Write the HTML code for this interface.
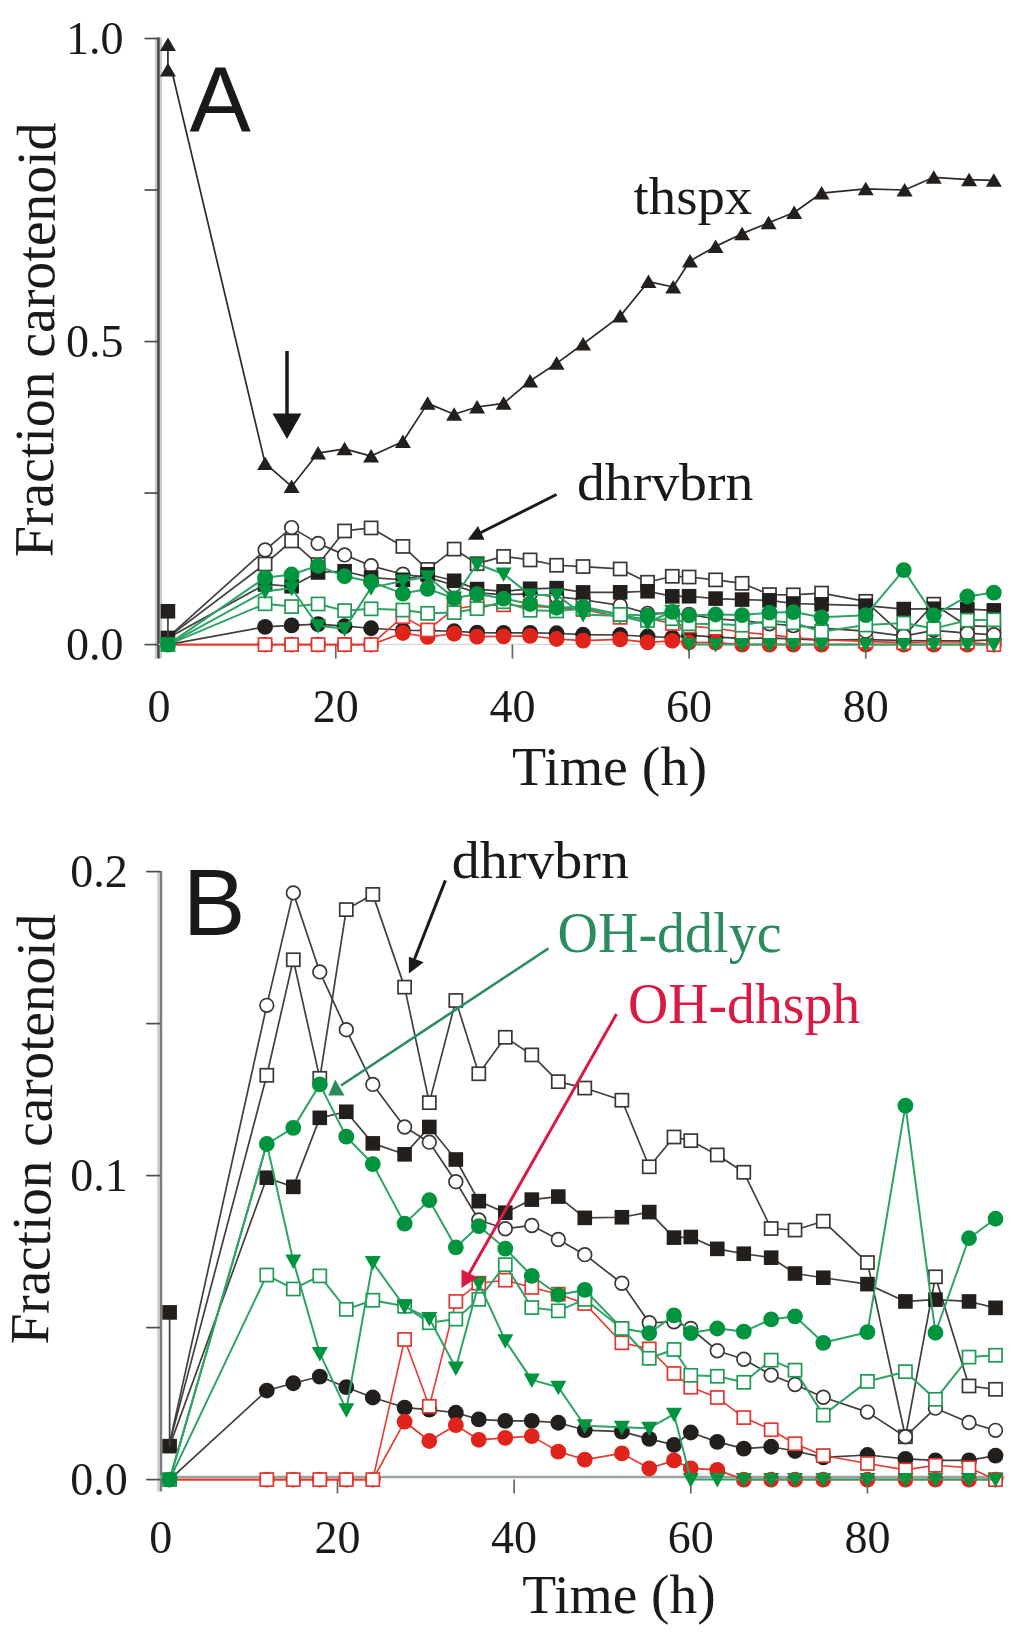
<!DOCTYPE html>
<html><head><meta charset="utf-8"><title>Fraction carotenoid</title>
<style>html,body{margin:0;padding:0;background:#fff;}body{width:1024px;height:1636px;overflow:hidden;font-family:"Liberation Serif",serif;}svg{display:block;filter:blur(0.4px)} .s{font-family:"Liberation Serif",serif} .a{font-family:"Liberation Sans",sans-serif}</style>
</head><body>
<svg width="1024" height="1636" viewBox="0 0 1024 1636">
<rect width="1024" height="1636" fill="#fff"/>
<rect x="154.8" y="37.5" width="7.3" height="621" fill="#cbcbcb"/>
<rect x="157.2" y="37.5" width="2.5" height="621" fill="#4a4644"/>
<path d="M144.5 644.6L158.5 644.6" stroke="#504c4a" stroke-width="1.7"/>
<path d="M144.5 493.08L158.5 493.08" stroke="#504c4a" stroke-width="1.7"/>
<path d="M144.5 341.55L158.5 341.55" stroke="#504c4a" stroke-width="1.7"/>
<path d="M144.5 190.02L158.5 190.02" stroke="#504c4a" stroke-width="1.7"/>
<path d="M144.5 38.5L158.5 38.5" stroke="#504c4a" stroke-width="1.7"/>
<path d="M158.5 644.4L1002.65 644.4" stroke="#d4d8d8" stroke-width="1.2"/>
<path d="M335.76 644.6L335.76 658.6" stroke="#6a6664" stroke-width="1.7"/>
<path d="M512.42 644.6L512.42 658.6" stroke="#6a6664" stroke-width="1.7"/>
<path d="M689.08 644.6L689.08 658.6" stroke="#6a6664" stroke-width="1.7"/>
<path d="M865.74 644.6L865.74 658.6" stroke="#6a6664" stroke-width="1.7"/>
<path d="M167.93 644.6L265.1 626.84L291.6 625.39L318.09 624.05L344.59 626.17L371.09 628.24L402.89 630.24L427.62 630.66L454.12 631.27L477.09 632.6L503.59 632.9L530.09 632.9L556.59 633.27L583.08 634.72L620.18 635.02L647.56 636.48L672.3 637.69L689.08 635.21L715.58 637.08L742.08 638.42L769.46 638.05L793.31 638.9L821.58 640.18L865.74 639.69L903.72 640.48L933.75 640.78L967.32 640.78L993.82 639.81" fill="none" stroke="#423e3c" stroke-width="1.7" stroke-linejoin="round"/>
<circle cx="265.1" cy="626.84" r="7.9" fill="#231f1c"/>
<circle cx="291.6" cy="625.39" r="7.9" fill="#231f1c"/>
<circle cx="318.09" cy="624.05" r="7.9" fill="#231f1c"/>
<circle cx="344.59" cy="626.17" r="7.9" fill="#231f1c"/>
<circle cx="371.09" cy="628.24" r="7.9" fill="#231f1c"/>
<circle cx="402.89" cy="630.24" r="7.9" fill="#231f1c"/>
<circle cx="427.62" cy="630.66" r="7.9" fill="#231f1c"/>
<circle cx="454.12" cy="631.27" r="7.9" fill="#231f1c"/>
<circle cx="477.09" cy="632.6" r="7.9" fill="#231f1c"/>
<circle cx="503.59" cy="632.9" r="7.9" fill="#231f1c"/>
<circle cx="530.09" cy="632.9" r="7.9" fill="#231f1c"/>
<circle cx="556.59" cy="633.27" r="7.9" fill="#231f1c"/>
<circle cx="583.08" cy="634.72" r="7.9" fill="#231f1c"/>
<circle cx="620.18" cy="635.02" r="7.9" fill="#231f1c"/>
<circle cx="647.56" cy="636.48" r="7.9" fill="#231f1c"/>
<circle cx="672.3" cy="637.69" r="7.9" fill="#231f1c"/>
<circle cx="689.08" cy="635.21" r="7.9" fill="#231f1c"/>
<circle cx="715.58" cy="637.08" r="7.9" fill="#231f1c"/>
<circle cx="742.08" cy="638.42" r="7.9" fill="#231f1c"/>
<circle cx="769.46" cy="638.05" r="7.9" fill="#231f1c"/>
<circle cx="793.31" cy="638.9" r="7.9" fill="#231f1c"/>
<circle cx="821.58" cy="640.18" r="7.9" fill="#231f1c"/>
<circle cx="865.74" cy="639.69" r="7.9" fill="#231f1c"/>
<circle cx="903.72" cy="640.48" r="7.9" fill="#231f1c"/>
<circle cx="933.75" cy="640.78" r="7.9" fill="#231f1c"/>
<circle cx="967.32" cy="640.78" r="7.9" fill="#231f1c"/>
<circle cx="993.82" cy="639.81" r="7.9" fill="#231f1c"/>
<path d="M167.93 644.6L265.1 644.6L291.6 644.6L318.09 644.6L344.59 644.6L371.09 644.6L402.89 633.02L427.62 636.9L454.12 633.75L477.09 636.66L503.59 636.3L530.09 635.93L556.59 639.02L583.08 640.6L620.18 639.39L647.56 642.36L672.3 640.78L689.08 642.36L715.58 642.66L742.08 644.6L769.46 644.6L793.31 644.6L821.58 644.6L865.74 644.6L903.72 644.6L933.75 644.6L967.32 644.6L993.82 644.6" fill="none" stroke="#e43a30" stroke-width="1.7" stroke-linejoin="round"/>
<circle cx="265.1" cy="644.6" r="7.9" fill="#e0241c"/>
<circle cx="291.6" cy="644.6" r="7.9" fill="#e0241c"/>
<circle cx="318.09" cy="644.6" r="7.9" fill="#e0241c"/>
<circle cx="344.59" cy="644.6" r="7.9" fill="#e0241c"/>
<circle cx="371.09" cy="644.6" r="7.9" fill="#e0241c"/>
<circle cx="402.89" cy="633.02" r="7.9" fill="#e0241c"/>
<circle cx="427.62" cy="636.9" r="7.9" fill="#e0241c"/>
<circle cx="454.12" cy="633.75" r="7.9" fill="#e0241c"/>
<circle cx="477.09" cy="636.66" r="7.9" fill="#e0241c"/>
<circle cx="503.59" cy="636.3" r="7.9" fill="#e0241c"/>
<circle cx="530.09" cy="635.93" r="7.9" fill="#e0241c"/>
<circle cx="556.59" cy="639.02" r="7.9" fill="#e0241c"/>
<circle cx="583.08" cy="640.6" r="7.9" fill="#e0241c"/>
<circle cx="620.18" cy="639.39" r="7.9" fill="#e0241c"/>
<circle cx="647.56" cy="642.36" r="7.9" fill="#e0241c"/>
<circle cx="672.3" cy="640.78" r="7.9" fill="#e0241c"/>
<circle cx="689.08" cy="642.36" r="7.9" fill="#e0241c"/>
<circle cx="715.58" cy="642.66" r="7.9" fill="#e0241c"/>
<circle cx="742.08" cy="644.6" r="7.9" fill="#e0241c"/>
<circle cx="769.46" cy="644.6" r="7.9" fill="#e0241c"/>
<circle cx="793.31" cy="644.6" r="7.9" fill="#e0241c"/>
<circle cx="821.58" cy="644.6" r="7.9" fill="#e0241c"/>
<circle cx="865.74" cy="644.6" r="7.9" fill="#e0241c"/>
<circle cx="903.72" cy="644.6" r="7.9" fill="#e0241c"/>
<circle cx="933.75" cy="644.6" r="7.9" fill="#e0241c"/>
<circle cx="967.32" cy="644.6" r="7.9" fill="#e0241c"/>
<circle cx="993.82" cy="644.6" r="7.9" fill="#e0241c"/>
<path d="M167.93 644.6L265.1 644.6L291.6 644.6L318.09 644.6L344.59 644.6L371.09 644.6L402.89 616.66L427.62 629.99L454.12 609.08L477.09 605.45L503.59 604.84L530.09 606.29L556.59 607.63L583.08 609.51L620.18 617.33L647.56 618.54L672.3 623.45L689.08 626.17L715.58 628.24L742.08 632.24L769.46 634.66L793.31 637.45L821.58 639.81L865.74 641.39L903.72 642.66L933.75 641.75L967.32 642.24L993.82 644.6" fill="none" stroke="#e43a30" stroke-width="1.6" stroke-linejoin="round"/>
<rect x="258.55" y="638.05" width="13.1" height="13.1" fill="#fff" stroke="#e2362e" stroke-width="1.7"/>
<rect x="285.05" y="638.05" width="13.1" height="13.1" fill="#fff" stroke="#e2362e" stroke-width="1.7"/>
<rect x="311.54" y="638.05" width="13.1" height="13.1" fill="#fff" stroke="#e2362e" stroke-width="1.7"/>
<rect x="338.04" y="638.05" width="13.1" height="13.1" fill="#fff" stroke="#e2362e" stroke-width="1.7"/>
<rect x="364.54" y="638.05" width="13.1" height="13.1" fill="#fff" stroke="#e2362e" stroke-width="1.7"/>
<rect x="396.34" y="610.11" width="13.1" height="13.1" fill="#fff" stroke="#e2362e" stroke-width="1.7"/>
<rect x="421.07" y="623.44" width="13.1" height="13.1" fill="#fff" stroke="#e2362e" stroke-width="1.7"/>
<rect x="447.57" y="602.53" width="13.1" height="13.1" fill="#fff" stroke="#e2362e" stroke-width="1.7"/>
<rect x="470.54" y="598.9" width="13.1" height="13.1" fill="#fff" stroke="#e2362e" stroke-width="1.7"/>
<rect x="497.04" y="598.29" width="13.1" height="13.1" fill="#fff" stroke="#e2362e" stroke-width="1.7"/>
<rect x="523.54" y="599.74" width="13.1" height="13.1" fill="#fff" stroke="#e2362e" stroke-width="1.7"/>
<rect x="550.04" y="601.08" width="13.1" height="13.1" fill="#fff" stroke="#e2362e" stroke-width="1.7"/>
<rect x="576.53" y="602.96" width="13.1" height="13.1" fill="#fff" stroke="#e2362e" stroke-width="1.7"/>
<rect x="613.63" y="610.78" width="13.1" height="13.1" fill="#fff" stroke="#e2362e" stroke-width="1.7"/>
<rect x="641.01" y="611.99" width="13.1" height="13.1" fill="#fff" stroke="#e2362e" stroke-width="1.7"/>
<rect x="665.75" y="616.9" width="13.1" height="13.1" fill="#fff" stroke="#e2362e" stroke-width="1.7"/>
<rect x="682.53" y="619.62" width="13.1" height="13.1" fill="#fff" stroke="#e2362e" stroke-width="1.7"/>
<rect x="709.03" y="621.69" width="13.1" height="13.1" fill="#fff" stroke="#e2362e" stroke-width="1.7"/>
<rect x="735.53" y="625.69" width="13.1" height="13.1" fill="#fff" stroke="#e2362e" stroke-width="1.7"/>
<rect x="762.91" y="628.11" width="13.1" height="13.1" fill="#fff" stroke="#e2362e" stroke-width="1.7"/>
<rect x="786.76" y="630.9" width="13.1" height="13.1" fill="#fff" stroke="#e2362e" stroke-width="1.7"/>
<rect x="815.03" y="633.26" width="13.1" height="13.1" fill="#fff" stroke="#e2362e" stroke-width="1.7"/>
<rect x="859.19" y="634.84" width="13.1" height="13.1" fill="#fff" stroke="#e2362e" stroke-width="1.7"/>
<rect x="897.17" y="636.11" width="13.1" height="13.1" fill="#fff" stroke="#e2362e" stroke-width="1.7"/>
<rect x="927.2" y="635.2" width="13.1" height="13.1" fill="#fff" stroke="#e2362e" stroke-width="1.7"/>
<rect x="960.77" y="635.69" width="13.1" height="13.1" fill="#fff" stroke="#e2362e" stroke-width="1.7"/>
<rect x="987.27" y="638.05" width="13.1" height="13.1" fill="#fff" stroke="#e2362e" stroke-width="1.7"/>
<path d="M167.93 637.33L265.1 563.99L291.6 540.96L318.09 564.59L344.59 530.96L371.09 527.93L402.89 546.41L427.62 569.44L454.12 549.08L477.09 563.69L503.59 556.41L530.09 559.93L556.59 565.26L583.08 566.53L620.18 568.96L647.56 582.23L672.3 576.29L689.08 577.02L715.58 579.87L742.08 583.32L769.46 594.54L793.31 594.84L821.58 593.08L865.74 601.32L903.72 636.05L933.75 604.17L967.32 625.93L993.82 626.6" fill="none" stroke="#423e3c" stroke-width="1.7" stroke-linejoin="round"/>
<rect x="258.55" y="557.44" width="13.1" height="13.1" fill="#fff" stroke="#3a3633" stroke-width="1.7"/>
<rect x="285.05" y="534.41" width="13.1" height="13.1" fill="#fff" stroke="#3a3633" stroke-width="1.7"/>
<rect x="311.54" y="558.04" width="13.1" height="13.1" fill="#fff" stroke="#3a3633" stroke-width="1.7"/>
<rect x="338.04" y="524.41" width="13.1" height="13.1" fill="#fff" stroke="#3a3633" stroke-width="1.7"/>
<rect x="364.54" y="521.38" width="13.1" height="13.1" fill="#fff" stroke="#3a3633" stroke-width="1.7"/>
<rect x="396.34" y="539.86" width="13.1" height="13.1" fill="#fff" stroke="#3a3633" stroke-width="1.7"/>
<rect x="421.07" y="562.89" width="13.1" height="13.1" fill="#fff" stroke="#3a3633" stroke-width="1.7"/>
<rect x="447.57" y="542.53" width="13.1" height="13.1" fill="#fff" stroke="#3a3633" stroke-width="1.7"/>
<rect x="470.54" y="557.14" width="13.1" height="13.1" fill="#fff" stroke="#3a3633" stroke-width="1.7"/>
<rect x="497.04" y="549.86" width="13.1" height="13.1" fill="#fff" stroke="#3a3633" stroke-width="1.7"/>
<rect x="523.54" y="553.38" width="13.1" height="13.1" fill="#fff" stroke="#3a3633" stroke-width="1.7"/>
<rect x="550.04" y="558.71" width="13.1" height="13.1" fill="#fff" stroke="#3a3633" stroke-width="1.7"/>
<rect x="576.53" y="559.98" width="13.1" height="13.1" fill="#fff" stroke="#3a3633" stroke-width="1.7"/>
<rect x="613.63" y="562.41" width="13.1" height="13.1" fill="#fff" stroke="#3a3633" stroke-width="1.7"/>
<rect x="641.01" y="575.68" width="13.1" height="13.1" fill="#fff" stroke="#3a3633" stroke-width="1.7"/>
<rect x="665.75" y="569.74" width="13.1" height="13.1" fill="#fff" stroke="#3a3633" stroke-width="1.7"/>
<rect x="682.53" y="570.47" width="13.1" height="13.1" fill="#fff" stroke="#3a3633" stroke-width="1.7"/>
<rect x="709.03" y="573.32" width="13.1" height="13.1" fill="#fff" stroke="#3a3633" stroke-width="1.7"/>
<rect x="735.53" y="576.77" width="13.1" height="13.1" fill="#fff" stroke="#3a3633" stroke-width="1.7"/>
<rect x="762.91" y="587.99" width="13.1" height="13.1" fill="#fff" stroke="#3a3633" stroke-width="1.7"/>
<rect x="786.76" y="588.29" width="13.1" height="13.1" fill="#fff" stroke="#3a3633" stroke-width="1.7"/>
<rect x="815.03" y="586.53" width="13.1" height="13.1" fill="#fff" stroke="#3a3633" stroke-width="1.7"/>
<rect x="859.19" y="594.77" width="13.1" height="13.1" fill="#fff" stroke="#3a3633" stroke-width="1.7"/>
<rect x="897.17" y="629.5" width="13.1" height="13.1" fill="#fff" stroke="#3a3633" stroke-width="1.7"/>
<rect x="927.2" y="597.62" width="13.1" height="13.1" fill="#fff" stroke="#3a3633" stroke-width="1.7"/>
<rect x="960.77" y="619.38" width="13.1" height="13.1" fill="#fff" stroke="#3a3633" stroke-width="1.7"/>
<rect x="987.27" y="620.05" width="13.1" height="13.1" fill="#fff" stroke="#3a3633" stroke-width="1.7"/>
<path d="M167.93 637.33L265.1 550.05L291.6 527.62L318.09 543.38L344.59 554.9L371.09 565.81L402.89 574.29L427.62 577.32L454.12 585.2L477.09 592.84L503.59 594.6L530.09 593.93L556.59 596.72L583.08 599.75L620.18 605.45L647.56 613.33L672.3 613.14L689.08 614.48L715.58 618.9L742.08 620.6L769.46 623.75L793.31 625.63L821.58 628.17L865.74 631.14L903.72 636.05L933.75 630.36L967.32 633.21L993.82 634.78" fill="none" stroke="#423e3c" stroke-width="1.7" stroke-linejoin="round"/>
<circle cx="265.1" cy="550.05" r="6.85" fill="#fff" stroke="#3a3633" stroke-width="1.7"/>
<circle cx="291.6" cy="527.62" r="6.85" fill="#fff" stroke="#3a3633" stroke-width="1.7"/>
<circle cx="318.09" cy="543.38" r="6.85" fill="#fff" stroke="#3a3633" stroke-width="1.7"/>
<circle cx="344.59" cy="554.9" r="6.85" fill="#fff" stroke="#3a3633" stroke-width="1.7"/>
<circle cx="371.09" cy="565.81" r="6.85" fill="#fff" stroke="#3a3633" stroke-width="1.7"/>
<circle cx="402.89" cy="574.29" r="6.85" fill="#fff" stroke="#3a3633" stroke-width="1.7"/>
<circle cx="427.62" cy="577.32" r="6.85" fill="#fff" stroke="#3a3633" stroke-width="1.7"/>
<circle cx="454.12" cy="585.2" r="6.85" fill="#fff" stroke="#3a3633" stroke-width="1.7"/>
<circle cx="477.09" cy="592.84" r="6.85" fill="#fff" stroke="#3a3633" stroke-width="1.7"/>
<circle cx="503.59" cy="594.6" r="6.85" fill="#fff" stroke="#3a3633" stroke-width="1.7"/>
<circle cx="530.09" cy="593.93" r="6.85" fill="#fff" stroke="#3a3633" stroke-width="1.7"/>
<circle cx="556.59" cy="596.72" r="6.85" fill="#fff" stroke="#3a3633" stroke-width="1.7"/>
<circle cx="583.08" cy="599.75" r="6.85" fill="#fff" stroke="#3a3633" stroke-width="1.7"/>
<circle cx="620.18" cy="605.45" r="6.85" fill="#fff" stroke="#3a3633" stroke-width="1.7"/>
<circle cx="647.56" cy="613.33" r="6.85" fill="#fff" stroke="#3a3633" stroke-width="1.7"/>
<circle cx="672.3" cy="613.14" r="6.85" fill="#fff" stroke="#3a3633" stroke-width="1.7"/>
<circle cx="689.08" cy="614.48" r="6.85" fill="#fff" stroke="#3a3633" stroke-width="1.7"/>
<circle cx="715.58" cy="618.9" r="6.85" fill="#fff" stroke="#3a3633" stroke-width="1.7"/>
<circle cx="742.08" cy="620.6" r="6.85" fill="#fff" stroke="#3a3633" stroke-width="1.7"/>
<circle cx="769.46" cy="623.75" r="6.85" fill="#fff" stroke="#3a3633" stroke-width="1.7"/>
<circle cx="793.31" cy="625.63" r="6.85" fill="#fff" stroke="#3a3633" stroke-width="1.7"/>
<circle cx="821.58" cy="628.17" r="6.85" fill="#fff" stroke="#3a3633" stroke-width="1.7"/>
<circle cx="865.74" cy="631.14" r="6.85" fill="#fff" stroke="#3a3633" stroke-width="1.7"/>
<circle cx="903.72" cy="636.05" r="6.85" fill="#fff" stroke="#3a3633" stroke-width="1.7"/>
<circle cx="933.75" cy="630.36" r="6.85" fill="#fff" stroke="#3a3633" stroke-width="1.7"/>
<circle cx="967.32" cy="633.21" r="6.85" fill="#fff" stroke="#3a3633" stroke-width="1.7"/>
<circle cx="993.82" cy="634.78" r="6.85" fill="#fff" stroke="#3a3633" stroke-width="1.7"/>
<path d="M167.93 637.93L265.1 584.41L291.6 586.23L318.09 572.47L344.59 571.26L371.09 577.57L402.89 579.75L427.62 574.29L454.12 580.78L477.09 589.08L503.59 591.38L530.09 588.78L556.59 588.17L583.08 592.41L620.18 592.29L647.56 591.26L672.3 596.35L689.08 596.23L715.58 598.6L742.08 599.57L769.46 600.35L793.31 603.51L821.58 604.35L865.74 605.63L903.72 609.08L933.75 608.72L967.32 609.08L993.82 610.36" fill="none" stroke="#423e3c" stroke-width="1.7" stroke-linejoin="round"/>
<rect x="160.63" y="630.63" width="14.6" height="14.6" fill="#231f1c"/>
<rect x="257.8" y="577.11" width="14.6" height="14.6" fill="#231f1c"/>
<rect x="284.3" y="578.93" width="14.6" height="14.6" fill="#231f1c"/>
<rect x="310.79" y="565.17" width="14.6" height="14.6" fill="#231f1c"/>
<rect x="337.29" y="563.96" width="14.6" height="14.6" fill="#231f1c"/>
<rect x="363.79" y="570.27" width="14.6" height="14.6" fill="#231f1c"/>
<rect x="395.59" y="572.45" width="14.6" height="14.6" fill="#231f1c"/>
<rect x="420.32" y="566.99" width="14.6" height="14.6" fill="#231f1c"/>
<rect x="446.82" y="573.48" width="14.6" height="14.6" fill="#231f1c"/>
<rect x="469.79" y="581.78" width="14.6" height="14.6" fill="#231f1c"/>
<rect x="496.29" y="584.08" width="14.6" height="14.6" fill="#231f1c"/>
<rect x="522.79" y="581.48" width="14.6" height="14.6" fill="#231f1c"/>
<rect x="549.29" y="580.87" width="14.6" height="14.6" fill="#231f1c"/>
<rect x="575.78" y="585.11" width="14.6" height="14.6" fill="#231f1c"/>
<rect x="612.88" y="584.99" width="14.6" height="14.6" fill="#231f1c"/>
<rect x="640.26" y="583.96" width="14.6" height="14.6" fill="#231f1c"/>
<rect x="665" y="589.05" width="14.6" height="14.6" fill="#231f1c"/>
<rect x="681.78" y="588.93" width="14.6" height="14.6" fill="#231f1c"/>
<rect x="708.28" y="591.3" width="14.6" height="14.6" fill="#231f1c"/>
<rect x="734.78" y="592.27" width="14.6" height="14.6" fill="#231f1c"/>
<rect x="762.16" y="593.05" width="14.6" height="14.6" fill="#231f1c"/>
<rect x="786.01" y="596.21" width="14.6" height="14.6" fill="#231f1c"/>
<rect x="814.28" y="597.05" width="14.6" height="14.6" fill="#231f1c"/>
<rect x="858.44" y="598.33" width="14.6" height="14.6" fill="#231f1c"/>
<rect x="896.42" y="601.78" width="14.6" height="14.6" fill="#231f1c"/>
<rect x="926.45" y="601.42" width="14.6" height="14.6" fill="#231f1c"/>
<rect x="960.02" y="601.78" width="14.6" height="14.6" fill="#231f1c"/>
<rect x="986.52" y="603.06" width="14.6" height="14.6" fill="#231f1c"/>
<path d="M167.93 644.6L265.1 603.81L291.6 606.6L318.09 603.99L344.59 610.66L371.09 608.84L402.89 610.05L427.62 613.33L454.12 612.6L477.09 608.66L503.59 601.75L530.09 610.29L556.59 610.96L583.08 608.66L620.18 614.48L647.56 620.42L672.3 618.66L689.08 623.81L715.58 623.99L742.08 625.2L769.46 620.78L793.31 622.78L821.58 631.75L865.74 625.02L903.72 623.08L933.75 628.6L967.32 620.17L993.82 619.81" fill="none" stroke="#2ea366" stroke-width="2.0" stroke-linejoin="round"/>
<rect x="161.38" y="638.05" width="13.1" height="13.1" fill="#fff" stroke="#1e9a55" stroke-width="1.7"/>
<rect x="258.55" y="597.26" width="13.1" height="13.1" fill="#fff" stroke="#1e9a55" stroke-width="1.7"/>
<rect x="285.05" y="600.05" width="13.1" height="13.1" fill="#fff" stroke="#1e9a55" stroke-width="1.7"/>
<rect x="311.54" y="597.44" width="13.1" height="13.1" fill="#fff" stroke="#1e9a55" stroke-width="1.7"/>
<rect x="338.04" y="604.11" width="13.1" height="13.1" fill="#fff" stroke="#1e9a55" stroke-width="1.7"/>
<rect x="364.54" y="602.29" width="13.1" height="13.1" fill="#fff" stroke="#1e9a55" stroke-width="1.7"/>
<rect x="396.34" y="603.5" width="13.1" height="13.1" fill="#fff" stroke="#1e9a55" stroke-width="1.7"/>
<rect x="421.07" y="606.78" width="13.1" height="13.1" fill="#fff" stroke="#1e9a55" stroke-width="1.7"/>
<rect x="447.57" y="606.05" width="13.1" height="13.1" fill="#fff" stroke="#1e9a55" stroke-width="1.7"/>
<rect x="470.54" y="602.11" width="13.1" height="13.1" fill="#fff" stroke="#1e9a55" stroke-width="1.7"/>
<rect x="497.04" y="595.2" width="13.1" height="13.1" fill="#fff" stroke="#1e9a55" stroke-width="1.7"/>
<rect x="523.54" y="603.74" width="13.1" height="13.1" fill="#fff" stroke="#1e9a55" stroke-width="1.7"/>
<rect x="550.04" y="604.41" width="13.1" height="13.1" fill="#fff" stroke="#1e9a55" stroke-width="1.7"/>
<rect x="576.53" y="602.11" width="13.1" height="13.1" fill="#fff" stroke="#1e9a55" stroke-width="1.7"/>
<rect x="613.63" y="607.93" width="13.1" height="13.1" fill="#fff" stroke="#1e9a55" stroke-width="1.7"/>
<rect x="641.01" y="613.87" width="13.1" height="13.1" fill="#fff" stroke="#1e9a55" stroke-width="1.7"/>
<rect x="665.75" y="612.11" width="13.1" height="13.1" fill="#fff" stroke="#1e9a55" stroke-width="1.7"/>
<rect x="682.53" y="617.26" width="13.1" height="13.1" fill="#fff" stroke="#1e9a55" stroke-width="1.7"/>
<rect x="709.03" y="617.44" width="13.1" height="13.1" fill="#fff" stroke="#1e9a55" stroke-width="1.7"/>
<rect x="735.53" y="618.65" width="13.1" height="13.1" fill="#fff" stroke="#1e9a55" stroke-width="1.7"/>
<rect x="762.91" y="614.23" width="13.1" height="13.1" fill="#fff" stroke="#1e9a55" stroke-width="1.7"/>
<rect x="786.76" y="616.23" width="13.1" height="13.1" fill="#fff" stroke="#1e9a55" stroke-width="1.7"/>
<rect x="815.03" y="625.2" width="13.1" height="13.1" fill="#fff" stroke="#1e9a55" stroke-width="1.7"/>
<rect x="859.19" y="618.47" width="13.1" height="13.1" fill="#fff" stroke="#1e9a55" stroke-width="1.7"/>
<rect x="897.17" y="616.53" width="13.1" height="13.1" fill="#fff" stroke="#1e9a55" stroke-width="1.7"/>
<rect x="927.2" y="622.05" width="13.1" height="13.1" fill="#fff" stroke="#1e9a55" stroke-width="1.7"/>
<rect x="960.77" y="613.62" width="13.1" height="13.1" fill="#fff" stroke="#1e9a55" stroke-width="1.7"/>
<rect x="987.27" y="613.26" width="13.1" height="13.1" fill="#fff" stroke="#1e9a55" stroke-width="1.7"/>
<path d="M167.93 644.6L265.1 591.26L291.6 588.23L318.09 625.81L344.59 628.84L371.09 587.63L402.89 580.96L427.62 576.72L454.12 597.93L477.09 563.99L503.59 573.99L530.09 594.9L556.59 594.9L583.08 614.6L620.18 616.11L647.56 622.78L672.3 611.26L689.08 644.6L715.58 644.6L742.08 644.6L769.46 644.6L793.31 644.6L821.58 644.6L865.74 644.6L903.72 644.6L933.75 644.6L967.32 644.6L993.82 644.6" fill="none" stroke="#2ea366" stroke-width="2.0" stroke-linejoin="round"/>
<path d="M159.93 638.1L175.93 638.1L167.93 652.6Z" fill="#00943f"/>
<path d="M257.1 584.76L273.1 584.76L265.1 599.26Z" fill="#00943f"/>
<path d="M283.6 581.73L299.6 581.73L291.6 596.23Z" fill="#00943f"/>
<path d="M310.09 619.31L326.09 619.31L318.09 633.81Z" fill="#00943f"/>
<path d="M336.59 622.34L352.59 622.34L344.59 636.84Z" fill="#00943f"/>
<path d="M363.09 581.13L379.09 581.13L371.09 595.63Z" fill="#00943f"/>
<path d="M394.89 574.46L410.89 574.46L402.89 588.96Z" fill="#00943f"/>
<path d="M419.62 570.22L435.62 570.22L427.62 584.72Z" fill="#00943f"/>
<path d="M446.12 591.43L462.12 591.43L454.12 605.93Z" fill="#00943f"/>
<path d="M469.09 557.49L485.09 557.49L477.09 571.99Z" fill="#00943f"/>
<path d="M495.59 567.49L511.59 567.49L503.59 581.99Z" fill="#00943f"/>
<path d="M522.09 588.4L538.09 588.4L530.09 602.9Z" fill="#00943f"/>
<path d="M548.59 588.4L564.59 588.4L556.59 602.9Z" fill="#00943f"/>
<path d="M575.08 608.1L591.08 608.1L583.08 622.6Z" fill="#00943f"/>
<path d="M612.18 609.61L628.18 609.61L620.18 624.11Z" fill="#00943f"/>
<path d="M639.56 616.28L655.56 616.28L647.56 630.78Z" fill="#00943f"/>
<path d="M664.3 604.76L680.3 604.76L672.3 619.26Z" fill="#00943f"/>
<path d="M681.08 638.1L697.08 638.1L689.08 652.6Z" fill="#00943f"/>
<path d="M707.58 638.1L723.58 638.1L715.58 652.6Z" fill="#00943f"/>
<path d="M734.08 638.1L750.08 638.1L742.08 652.6Z" fill="#00943f"/>
<path d="M761.46 638.1L777.46 638.1L769.46 652.6Z" fill="#00943f"/>
<path d="M785.31 638.1L801.31 638.1L793.31 652.6Z" fill="#00943f"/>
<path d="M813.58 638.1L829.58 638.1L821.58 652.6Z" fill="#00943f"/>
<path d="M857.74 638.1L873.74 638.1L865.74 652.6Z" fill="#00943f"/>
<path d="M895.72 638.1L911.72 638.1L903.72 652.6Z" fill="#00943f"/>
<path d="M925.75 638.1L941.75 638.1L933.75 652.6Z" fill="#00943f"/>
<path d="M959.32 638.1L975.32 638.1L967.32 652.6Z" fill="#00943f"/>
<path d="M985.82 638.1L1001.82 638.1L993.82 652.6Z" fill="#00943f"/>
<path d="M167.93 644.6L265.1 577.69L291.6 574.47L318.09 565.81L344.59 576.23L371.09 581.69L402.89 593.57L427.62 588.9L454.12 598.29L477.09 594.05L503.59 598.54L530.09 603.99L556.59 607.75L583.08 606.78L620.18 614.48L647.56 615.39L672.3 611.87L689.08 615.39L715.58 614.48L742.08 615.08L769.46 612.66L793.31 612.05L821.58 617.33L865.74 615.2L903.72 570.05L933.75 615.33L967.32 596.48L993.82 592.6" fill="none" stroke="#2ea366" stroke-width="2.0" stroke-linejoin="round"/>
<circle cx="167.93" cy="644.6" r="7.9" fill="#00943f"/>
<circle cx="265.1" cy="577.69" r="7.9" fill="#00943f"/>
<circle cx="291.6" cy="574.47" r="7.9" fill="#00943f"/>
<circle cx="318.09" cy="565.81" r="7.9" fill="#00943f"/>
<circle cx="344.59" cy="576.23" r="7.9" fill="#00943f"/>
<circle cx="371.09" cy="581.69" r="7.9" fill="#00943f"/>
<circle cx="402.89" cy="593.57" r="7.9" fill="#00943f"/>
<circle cx="427.62" cy="588.9" r="7.9" fill="#00943f"/>
<circle cx="454.12" cy="598.29" r="7.9" fill="#00943f"/>
<circle cx="477.09" cy="594.05" r="7.9" fill="#00943f"/>
<circle cx="503.59" cy="598.54" r="7.9" fill="#00943f"/>
<circle cx="530.09" cy="603.99" r="7.9" fill="#00943f"/>
<circle cx="556.59" cy="607.75" r="7.9" fill="#00943f"/>
<circle cx="583.08" cy="606.78" r="7.9" fill="#00943f"/>
<circle cx="647.56" cy="615.39" r="7.9" fill="#00943f"/>
<circle cx="672.3" cy="611.87" r="7.9" fill="#00943f"/>
<circle cx="689.08" cy="615.39" r="7.9" fill="#00943f"/>
<circle cx="715.58" cy="614.48" r="7.9" fill="#00943f"/>
<circle cx="742.08" cy="615.08" r="7.9" fill="#00943f"/>
<circle cx="769.46" cy="612.66" r="7.9" fill="#00943f"/>
<circle cx="793.31" cy="612.05" r="7.9" fill="#00943f"/>
<circle cx="821.58" cy="617.33" r="7.9" fill="#00943f"/>
<circle cx="865.74" cy="615.2" r="7.9" fill="#00943f"/>
<circle cx="903.72" cy="570.05" r="7.9" fill="#00943f"/>
<circle cx="933.75" cy="615.33" r="7.9" fill="#00943f"/>
<circle cx="967.32" cy="596.48" r="7.9" fill="#00943f"/>
<circle cx="993.82" cy="592.6" r="7.9" fill="#00943f"/>
<rect x="613.63" y="607.93" width="13.1" height="13.1" fill="#fff" stroke="#1e9a55" stroke-width="1.7"/>
<path d="M167.93 611.26L167.93 637.93" stroke="#423e3c" stroke-width="1.7"/>
<rect x="160.63" y="603.96" width="14.6" height="14.6" fill="#231f1c"/>
<path d="M167.93 44.56L167.93 70.02L172.43 73.52L265.1 463.38L291.6 486.41L318.09 453.07L344.59 448.83L371.09 456.1L402.89 441.56L427.62 403.37L454.12 414.28L477.09 407.01L503.59 403.37L530.09 380.95L556.59 363.37L583.08 343.97L620.18 316.09L648.45 281.55L673.18 287L689.96 260.94L715.58 246.39L742.08 233.66L768.58 222.75L794.19 212.45L821.58 193.06L865.74 188.81L904.61 190.02L933.75 177.3L969.09 179.72L993.82 180.33" fill="none" stroke="#2e2a28" stroke-width="1.7" stroke-linejoin="round"/>
<path d="M159.93 51.06L175.93 51.06L167.93 37.56Z" fill="#231f1c"/>
<path d="M159.93 76.52L175.93 76.52L167.93 63.02Z" fill="#231f1c"/>
<path d="M257.1 469.88L273.1 469.88L265.1 456.38Z" fill="#231f1c"/>
<path d="M283.6 492.91L299.6 492.91L291.6 479.41Z" fill="#231f1c"/>
<path d="M310.09 459.57L326.09 459.57L318.09 446.07Z" fill="#231f1c"/>
<path d="M336.59 455.33L352.59 455.33L344.59 441.83Z" fill="#231f1c"/>
<path d="M363.09 462.6L379.09 462.6L371.09 449.1Z" fill="#231f1c"/>
<path d="M394.89 448.06L410.89 448.06L402.89 434.56Z" fill="#231f1c"/>
<path d="M419.62 409.87L435.62 409.87L427.62 396.37Z" fill="#231f1c"/>
<path d="M446.12 420.78L462.12 420.78L454.12 407.28Z" fill="#231f1c"/>
<path d="M469.09 413.51L485.09 413.51L477.09 400.01Z" fill="#231f1c"/>
<path d="M495.59 409.87L511.59 409.87L503.59 396.37Z" fill="#231f1c"/>
<path d="M522.09 387.45L538.09 387.45L530.09 373.95Z" fill="#231f1c"/>
<path d="M548.59 369.87L564.59 369.87L556.59 356.37Z" fill="#231f1c"/>
<path d="M575.08 350.47L591.08 350.47L583.08 336.97Z" fill="#231f1c"/>
<path d="M612.18 322.59L628.18 322.59L620.18 309.09Z" fill="#231f1c"/>
<path d="M640.45 288.05L656.45 288.05L648.45 274.55Z" fill="#231f1c"/>
<path d="M665.18 293.5L681.18 293.5L673.18 280Z" fill="#231f1c"/>
<path d="M681.96 267.44L697.96 267.44L689.96 253.94Z" fill="#231f1c"/>
<path d="M707.58 252.89L723.58 252.89L715.58 239.39Z" fill="#231f1c"/>
<path d="M734.08 240.16L750.08 240.16L742.08 226.66Z" fill="#231f1c"/>
<path d="M760.58 229.25L776.58 229.25L768.58 215.75Z" fill="#231f1c"/>
<path d="M786.19 218.95L802.19 218.95L794.19 205.45Z" fill="#231f1c"/>
<path d="M813.58 199.56L829.58 199.56L821.58 186.06Z" fill="#231f1c"/>
<path d="M857.74 195.31L873.74 195.31L865.74 181.81Z" fill="#231f1c"/>
<path d="M896.61 196.52L912.61 196.52L904.61 183.02Z" fill="#231f1c"/>
<path d="M925.75 183.8L941.75 183.8L933.75 170.3Z" fill="#231f1c"/>
<path d="M961.09 186.22L977.09 186.22L969.09 172.72Z" fill="#231f1c"/>
<path d="M985.82 186.83L1001.82 186.83L993.82 173.33Z" fill="#231f1c"/>
<rect x="157.1" y="871" width="2.8" height="620.5" fill="#d2d2d2"/>
<rect x="159.8" y="871" width="2.4" height="620.5" fill="#7a7a7a"/>
<path d="M146.2 1479.6L160.2 1479.6" stroke="#504c4a" stroke-width="1.7"/>
<path d="M146.2 1327.6L160.2 1327.6" stroke="#504c4a" stroke-width="1.7"/>
<path d="M146.2 1175.6L160.2 1175.6" stroke="#504c4a" stroke-width="1.7"/>
<path d="M146.2 1023.6L160.2 1023.6" stroke="#504c4a" stroke-width="1.7"/>
<path d="M146.2 871.6L160.2 871.6" stroke="#504c4a" stroke-width="1.7"/>
<path d="M160.2 1477L1004.35 1477" stroke="#9aa2a2" stroke-width="2.4"/>
<path d="M337.46 1479.6L337.46 1493.6" stroke="#6a6664" stroke-width="1.7"/>
<path d="M514.12 1479.6L514.12 1493.6" stroke="#6a6664" stroke-width="1.7"/>
<path d="M690.78 1479.6L690.78 1493.6" stroke="#6a6664" stroke-width="1.7"/>
<path d="M867.44 1479.6L867.44 1493.6" stroke="#6a6664" stroke-width="1.7"/>
<path d="M169.63 1479.6L266.8 1390.53L293.3 1383.23L319.79 1376.54L346.29 1387.18L372.79 1397.52L404.59 1407.55L429.32 1409.68L455.82 1412.72L478.79 1419.41L505.29 1420.93L531.79 1420.93L558.29 1422.75L584.78 1430.05L621.88 1431.57L649.26 1438.86L674 1444.94L690.78 1432.48L717.28 1441.9L743.78 1448.59L771.16 1446.77L795.01 1451.02L823.28 1457.41L867.44 1454.98L905.42 1458.93L935.45 1460.45L969.02 1460.45L995.52 1455.58" fill="none" stroke="#423e3c" stroke-width="1.7" stroke-linejoin="round"/>
<circle cx="266.8" cy="1390.53" r="7.9" fill="#231f1c"/>
<circle cx="293.3" cy="1383.23" r="7.9" fill="#231f1c"/>
<circle cx="319.79" cy="1376.54" r="7.9" fill="#231f1c"/>
<circle cx="346.29" cy="1387.18" r="7.9" fill="#231f1c"/>
<circle cx="372.79" cy="1397.52" r="7.9" fill="#231f1c"/>
<circle cx="404.59" cy="1407.55" r="7.9" fill="#231f1c"/>
<circle cx="429.32" cy="1409.68" r="7.9" fill="#231f1c"/>
<circle cx="455.82" cy="1412.72" r="7.9" fill="#231f1c"/>
<circle cx="478.79" cy="1419.41" r="7.9" fill="#231f1c"/>
<circle cx="505.29" cy="1420.93" r="7.9" fill="#231f1c"/>
<circle cx="531.79" cy="1420.93" r="7.9" fill="#231f1c"/>
<circle cx="558.29" cy="1422.75" r="7.9" fill="#231f1c"/>
<circle cx="584.78" cy="1430.05" r="7.9" fill="#231f1c"/>
<circle cx="621.88" cy="1431.57" r="7.9" fill="#231f1c"/>
<circle cx="649.26" cy="1438.86" r="7.9" fill="#231f1c"/>
<circle cx="674" cy="1444.94" r="7.9" fill="#231f1c"/>
<circle cx="690.78" cy="1432.48" r="7.9" fill="#231f1c"/>
<circle cx="717.28" cy="1441.9" r="7.9" fill="#231f1c"/>
<circle cx="743.78" cy="1448.59" r="7.9" fill="#231f1c"/>
<circle cx="771.16" cy="1446.77" r="7.9" fill="#231f1c"/>
<circle cx="795.01" cy="1451.02" r="7.9" fill="#231f1c"/>
<circle cx="823.28" cy="1457.41" r="7.9" fill="#231f1c"/>
<circle cx="867.44" cy="1454.98" r="7.9" fill="#231f1c"/>
<circle cx="905.42" cy="1458.93" r="7.9" fill="#231f1c"/>
<circle cx="935.45" cy="1460.45" r="7.9" fill="#231f1c"/>
<circle cx="969.02" cy="1460.45" r="7.9" fill="#231f1c"/>
<circle cx="995.52" cy="1455.58" r="7.9" fill="#231f1c"/>
<path d="M169.63 1479.6L266.8 1479.6L293.3 1479.6L319.79 1479.6L346.29 1479.6L372.79 1479.6L404.59 1421.54L429.32 1440.99L455.82 1425.18L478.79 1439.78L505.29 1437.95L531.79 1436.13L558.29 1451.63L584.78 1459.54L621.88 1453.46L649.26 1468.35L674 1460.45L690.78 1468.35L717.28 1469.87L743.78 1479.6L771.16 1479.6L795.01 1479.6L823.28 1479.6L867.44 1479.6L905.42 1479.6L935.45 1479.6L969.02 1479.6L995.52 1479.6" fill="none" stroke="#e43a30" stroke-width="1.7" stroke-linejoin="round"/>
<circle cx="266.8" cy="1479.6" r="7.9" fill="#e0241c"/>
<circle cx="293.3" cy="1479.6" r="7.9" fill="#e0241c"/>
<circle cx="319.79" cy="1479.6" r="7.9" fill="#e0241c"/>
<circle cx="346.29" cy="1479.6" r="7.9" fill="#e0241c"/>
<circle cx="372.79" cy="1479.6" r="7.9" fill="#e0241c"/>
<circle cx="404.59" cy="1421.54" r="7.9" fill="#e0241c"/>
<circle cx="429.32" cy="1440.99" r="7.9" fill="#e0241c"/>
<circle cx="455.82" cy="1425.18" r="7.9" fill="#e0241c"/>
<circle cx="478.79" cy="1439.78" r="7.9" fill="#e0241c"/>
<circle cx="505.29" cy="1437.95" r="7.9" fill="#e0241c"/>
<circle cx="531.79" cy="1436.13" r="7.9" fill="#e0241c"/>
<circle cx="558.29" cy="1451.63" r="7.9" fill="#e0241c"/>
<circle cx="584.78" cy="1459.54" r="7.9" fill="#e0241c"/>
<circle cx="621.88" cy="1453.46" r="7.9" fill="#e0241c"/>
<circle cx="649.26" cy="1468.35" r="7.9" fill="#e0241c"/>
<circle cx="674" cy="1460.45" r="7.9" fill="#e0241c"/>
<circle cx="690.78" cy="1468.35" r="7.9" fill="#e0241c"/>
<circle cx="717.28" cy="1469.87" r="7.9" fill="#e0241c"/>
<circle cx="743.78" cy="1479.6" r="7.9" fill="#e0241c"/>
<circle cx="771.16" cy="1479.6" r="7.9" fill="#e0241c"/>
<circle cx="795.01" cy="1479.6" r="7.9" fill="#e0241c"/>
<circle cx="823.28" cy="1479.6" r="7.9" fill="#e0241c"/>
<circle cx="867.44" cy="1479.6" r="7.9" fill="#e0241c"/>
<circle cx="905.42" cy="1479.6" r="7.9" fill="#e0241c"/>
<circle cx="935.45" cy="1479.6" r="7.9" fill="#e0241c"/>
<circle cx="969.02" cy="1479.6" r="7.9" fill="#e0241c"/>
<circle cx="995.52" cy="1479.6" r="7.9" fill="#e0241c"/>
<path d="M169.63 1479.6L266.8 1479.6L293.3 1479.6L319.79 1479.6L346.29 1479.6L372.79 1479.6L404.59 1339.46L429.32 1406.34L455.82 1301.46L478.79 1283.22L505.29 1280.18L531.79 1287.47L558.29 1294.16L584.78 1303.58L621.88 1342.8L649.26 1348.88L674 1373.5L690.78 1387.18L717.28 1397.52L743.78 1417.58L771.16 1429.74L795.01 1443.73L823.28 1455.58L867.44 1463.49L905.42 1469.87L935.45 1465.31L969.02 1467.74L995.52 1479.6" fill="none" stroke="#e43a30" stroke-width="1.6" stroke-linejoin="round"/>
<rect x="260.25" y="1473.05" width="13.1" height="13.1" fill="#fff" stroke="#e2362e" stroke-width="1.7"/>
<rect x="286.75" y="1473.05" width="13.1" height="13.1" fill="#fff" stroke="#e2362e" stroke-width="1.7"/>
<rect x="313.24" y="1473.05" width="13.1" height="13.1" fill="#fff" stroke="#e2362e" stroke-width="1.7"/>
<rect x="339.74" y="1473.05" width="13.1" height="13.1" fill="#fff" stroke="#e2362e" stroke-width="1.7"/>
<rect x="366.24" y="1473.05" width="13.1" height="13.1" fill="#fff" stroke="#e2362e" stroke-width="1.7"/>
<rect x="398.04" y="1332.91" width="13.1" height="13.1" fill="#fff" stroke="#e2362e" stroke-width="1.7"/>
<rect x="422.77" y="1399.79" width="13.1" height="13.1" fill="#fff" stroke="#e2362e" stroke-width="1.7"/>
<rect x="449.27" y="1294.91" width="13.1" height="13.1" fill="#fff" stroke="#e2362e" stroke-width="1.7"/>
<rect x="472.24" y="1276.67" width="13.1" height="13.1" fill="#fff" stroke="#e2362e" stroke-width="1.7"/>
<rect x="498.74" y="1273.63" width="13.1" height="13.1" fill="#fff" stroke="#e2362e" stroke-width="1.7"/>
<rect x="525.24" y="1280.92" width="13.1" height="13.1" fill="#fff" stroke="#e2362e" stroke-width="1.7"/>
<rect x="551.74" y="1287.61" width="13.1" height="13.1" fill="#fff" stroke="#e2362e" stroke-width="1.7"/>
<rect x="578.23" y="1297.03" width="13.1" height="13.1" fill="#fff" stroke="#e2362e" stroke-width="1.7"/>
<rect x="615.33" y="1336.25" width="13.1" height="13.1" fill="#fff" stroke="#e2362e" stroke-width="1.7"/>
<rect x="642.71" y="1342.33" width="13.1" height="13.1" fill="#fff" stroke="#e2362e" stroke-width="1.7"/>
<rect x="667.45" y="1366.95" width="13.1" height="13.1" fill="#fff" stroke="#e2362e" stroke-width="1.7"/>
<rect x="684.23" y="1380.63" width="13.1" height="13.1" fill="#fff" stroke="#e2362e" stroke-width="1.7"/>
<rect x="710.73" y="1390.97" width="13.1" height="13.1" fill="#fff" stroke="#e2362e" stroke-width="1.7"/>
<rect x="737.23" y="1411.03" width="13.1" height="13.1" fill="#fff" stroke="#e2362e" stroke-width="1.7"/>
<rect x="764.61" y="1423.19" width="13.1" height="13.1" fill="#fff" stroke="#e2362e" stroke-width="1.7"/>
<rect x="788.46" y="1437.18" width="13.1" height="13.1" fill="#fff" stroke="#e2362e" stroke-width="1.7"/>
<rect x="816.73" y="1449.03" width="13.1" height="13.1" fill="#fff" stroke="#e2362e" stroke-width="1.7"/>
<rect x="860.89" y="1456.94" width="13.1" height="13.1" fill="#fff" stroke="#e2362e" stroke-width="1.7"/>
<rect x="898.87" y="1463.32" width="13.1" height="13.1" fill="#fff" stroke="#e2362e" stroke-width="1.7"/>
<rect x="928.9" y="1458.76" width="13.1" height="13.1" fill="#fff" stroke="#e2362e" stroke-width="1.7"/>
<rect x="962.47" y="1461.19" width="13.1" height="13.1" fill="#fff" stroke="#e2362e" stroke-width="1.7"/>
<rect x="988.97" y="1473.05" width="13.1" height="13.1" fill="#fff" stroke="#e2362e" stroke-width="1.7"/>
<path d="M169.63 1443.12L266.8 1075.28L293.3 959.76L319.79 1078.32L346.29 909.6L372.79 894.4L404.59 987.12L429.32 1102.64L455.82 1000.5L478.79 1073.76L505.29 1037.28L531.79 1054.91L558.29 1081.66L584.78 1088.05L621.88 1100.21L649.26 1166.78L674 1136.99L690.78 1140.64L717.28 1154.93L743.78 1172.26L771.16 1228.5L795.01 1230.02L823.28 1221.2L867.44 1262.54L905.42 1436.74L935.45 1276.83L969.02 1385.97L995.52 1389.31" fill="none" stroke="#423e3c" stroke-width="1.7" stroke-linejoin="round"/>
<rect x="260.25" y="1068.73" width="13.1" height="13.1" fill="#fff" stroke="#3a3633" stroke-width="1.7"/>
<rect x="286.75" y="953.21" width="13.1" height="13.1" fill="#fff" stroke="#3a3633" stroke-width="1.7"/>
<rect x="313.24" y="1071.77" width="13.1" height="13.1" fill="#fff" stroke="#3a3633" stroke-width="1.7"/>
<rect x="339.74" y="903.05" width="13.1" height="13.1" fill="#fff" stroke="#3a3633" stroke-width="1.7"/>
<rect x="366.24" y="887.85" width="13.1" height="13.1" fill="#fff" stroke="#3a3633" stroke-width="1.7"/>
<rect x="398.04" y="980.57" width="13.1" height="13.1" fill="#fff" stroke="#3a3633" stroke-width="1.7"/>
<rect x="422.77" y="1096.09" width="13.1" height="13.1" fill="#fff" stroke="#3a3633" stroke-width="1.7"/>
<rect x="449.27" y="993.95" width="13.1" height="13.1" fill="#fff" stroke="#3a3633" stroke-width="1.7"/>
<rect x="472.24" y="1067.21" width="13.1" height="13.1" fill="#fff" stroke="#3a3633" stroke-width="1.7"/>
<rect x="498.74" y="1030.73" width="13.1" height="13.1" fill="#fff" stroke="#3a3633" stroke-width="1.7"/>
<rect x="525.24" y="1048.36" width="13.1" height="13.1" fill="#fff" stroke="#3a3633" stroke-width="1.7"/>
<rect x="551.74" y="1075.11" width="13.1" height="13.1" fill="#fff" stroke="#3a3633" stroke-width="1.7"/>
<rect x="578.23" y="1081.5" width="13.1" height="13.1" fill="#fff" stroke="#3a3633" stroke-width="1.7"/>
<rect x="615.33" y="1093.66" width="13.1" height="13.1" fill="#fff" stroke="#3a3633" stroke-width="1.7"/>
<rect x="642.71" y="1160.23" width="13.1" height="13.1" fill="#fff" stroke="#3a3633" stroke-width="1.7"/>
<rect x="667.45" y="1130.44" width="13.1" height="13.1" fill="#fff" stroke="#3a3633" stroke-width="1.7"/>
<rect x="684.23" y="1134.09" width="13.1" height="13.1" fill="#fff" stroke="#3a3633" stroke-width="1.7"/>
<rect x="710.73" y="1148.38" width="13.1" height="13.1" fill="#fff" stroke="#3a3633" stroke-width="1.7"/>
<rect x="737.23" y="1165.71" width="13.1" height="13.1" fill="#fff" stroke="#3a3633" stroke-width="1.7"/>
<rect x="764.61" y="1221.95" width="13.1" height="13.1" fill="#fff" stroke="#3a3633" stroke-width="1.7"/>
<rect x="788.46" y="1223.47" width="13.1" height="13.1" fill="#fff" stroke="#3a3633" stroke-width="1.7"/>
<rect x="816.73" y="1214.65" width="13.1" height="13.1" fill="#fff" stroke="#3a3633" stroke-width="1.7"/>
<rect x="860.89" y="1255.99" width="13.1" height="13.1" fill="#fff" stroke="#3a3633" stroke-width="1.7"/>
<rect x="898.87" y="1430.19" width="13.1" height="13.1" fill="#fff" stroke="#3a3633" stroke-width="1.7"/>
<rect x="928.9" y="1270.28" width="13.1" height="13.1" fill="#fff" stroke="#3a3633" stroke-width="1.7"/>
<rect x="962.47" y="1379.42" width="13.1" height="13.1" fill="#fff" stroke="#3a3633" stroke-width="1.7"/>
<rect x="988.97" y="1382.76" width="13.1" height="13.1" fill="#fff" stroke="#3a3633" stroke-width="1.7"/>
<path d="M169.63 1443.12L266.8 1005.36L293.3 892.88L319.79 971.92L346.29 1029.68L372.79 1084.4L404.59 1126.96L429.32 1142.16L455.82 1181.68L478.79 1219.98L505.29 1228.8L531.79 1225.46L558.29 1239.44L584.78 1254.64L621.88 1283.22L649.26 1322.74L674 1321.82L690.78 1328.51L717.28 1350.7L743.78 1359.22L771.16 1375.02L795.01 1384.45L823.28 1397.22L867.44 1412.11L905.42 1436.74L935.45 1408.16L969.02 1422.45L995.52 1430.35" fill="none" stroke="#423e3c" stroke-width="1.7" stroke-linejoin="round"/>
<circle cx="266.8" cy="1005.36" r="6.85" fill="#fff" stroke="#3a3633" stroke-width="1.7"/>
<circle cx="293.3" cy="892.88" r="6.85" fill="#fff" stroke="#3a3633" stroke-width="1.7"/>
<circle cx="319.79" cy="971.92" r="6.85" fill="#fff" stroke="#3a3633" stroke-width="1.7"/>
<circle cx="346.29" cy="1029.68" r="6.85" fill="#fff" stroke="#3a3633" stroke-width="1.7"/>
<circle cx="372.79" cy="1084.4" r="6.85" fill="#fff" stroke="#3a3633" stroke-width="1.7"/>
<circle cx="404.59" cy="1126.96" r="6.85" fill="#fff" stroke="#3a3633" stroke-width="1.7"/>
<circle cx="429.32" cy="1142.16" r="6.85" fill="#fff" stroke="#3a3633" stroke-width="1.7"/>
<circle cx="455.82" cy="1181.68" r="6.85" fill="#fff" stroke="#3a3633" stroke-width="1.7"/>
<circle cx="478.79" cy="1219.98" r="6.85" fill="#fff" stroke="#3a3633" stroke-width="1.7"/>
<circle cx="505.29" cy="1228.8" r="6.85" fill="#fff" stroke="#3a3633" stroke-width="1.7"/>
<circle cx="531.79" cy="1225.46" r="6.85" fill="#fff" stroke="#3a3633" stroke-width="1.7"/>
<circle cx="558.29" cy="1239.44" r="6.85" fill="#fff" stroke="#3a3633" stroke-width="1.7"/>
<circle cx="584.78" cy="1254.64" r="6.85" fill="#fff" stroke="#3a3633" stroke-width="1.7"/>
<circle cx="621.88" cy="1283.22" r="6.85" fill="#fff" stroke="#3a3633" stroke-width="1.7"/>
<circle cx="649.26" cy="1322.74" r="6.85" fill="#fff" stroke="#3a3633" stroke-width="1.7"/>
<circle cx="674" cy="1321.82" r="6.85" fill="#fff" stroke="#3a3633" stroke-width="1.7"/>
<circle cx="690.78" cy="1328.51" r="6.85" fill="#fff" stroke="#3a3633" stroke-width="1.7"/>
<circle cx="717.28" cy="1350.7" r="6.85" fill="#fff" stroke="#3a3633" stroke-width="1.7"/>
<circle cx="743.78" cy="1359.22" r="6.85" fill="#fff" stroke="#3a3633" stroke-width="1.7"/>
<circle cx="771.16" cy="1375.02" r="6.85" fill="#fff" stroke="#3a3633" stroke-width="1.7"/>
<circle cx="795.01" cy="1384.45" r="6.85" fill="#fff" stroke="#3a3633" stroke-width="1.7"/>
<circle cx="823.28" cy="1397.22" r="6.85" fill="#fff" stroke="#3a3633" stroke-width="1.7"/>
<circle cx="867.44" cy="1412.11" r="6.85" fill="#fff" stroke="#3a3633" stroke-width="1.7"/>
<circle cx="905.42" cy="1436.74" r="6.85" fill="#fff" stroke="#3a3633" stroke-width="1.7"/>
<circle cx="935.45" cy="1408.16" r="6.85" fill="#fff" stroke="#3a3633" stroke-width="1.7"/>
<circle cx="969.02" cy="1422.45" r="6.85" fill="#fff" stroke="#3a3633" stroke-width="1.7"/>
<circle cx="995.52" cy="1430.35" r="6.85" fill="#fff" stroke="#3a3633" stroke-width="1.7"/>
<path d="M169.63 1446.16L266.8 1177.73L293.3 1186.85L319.79 1117.84L346.29 1111.76L372.79 1143.38L404.59 1154.32L429.32 1126.96L455.82 1159.49L478.79 1201.14L505.29 1212.69L531.79 1199.62L558.29 1196.58L584.78 1217.86L621.88 1217.25L649.26 1212.08L674 1237.62L690.78 1237.01L717.28 1248.86L743.78 1253.73L771.16 1257.68L795.01 1273.49L823.28 1277.74L867.44 1284.13L905.42 1301.46L935.45 1299.63L969.02 1301.46L995.52 1307.84" fill="none" stroke="#423e3c" stroke-width="1.7" stroke-linejoin="round"/>
<rect x="162.33" y="1438.86" width="14.6" height="14.6" fill="#231f1c"/>
<rect x="259.5" y="1170.43" width="14.6" height="14.6" fill="#231f1c"/>
<rect x="286" y="1179.55" width="14.6" height="14.6" fill="#231f1c"/>
<rect x="312.49" y="1110.54" width="14.6" height="14.6" fill="#231f1c"/>
<rect x="338.99" y="1104.46" width="14.6" height="14.6" fill="#231f1c"/>
<rect x="365.49" y="1136.08" width="14.6" height="14.6" fill="#231f1c"/>
<rect x="397.29" y="1147.02" width="14.6" height="14.6" fill="#231f1c"/>
<rect x="422.02" y="1119.66" width="14.6" height="14.6" fill="#231f1c"/>
<rect x="448.52" y="1152.19" width="14.6" height="14.6" fill="#231f1c"/>
<rect x="471.49" y="1193.84" width="14.6" height="14.6" fill="#231f1c"/>
<rect x="497.99" y="1205.39" width="14.6" height="14.6" fill="#231f1c"/>
<rect x="524.49" y="1192.32" width="14.6" height="14.6" fill="#231f1c"/>
<rect x="550.99" y="1189.28" width="14.6" height="14.6" fill="#231f1c"/>
<rect x="577.48" y="1210.56" width="14.6" height="14.6" fill="#231f1c"/>
<rect x="614.58" y="1209.95" width="14.6" height="14.6" fill="#231f1c"/>
<rect x="641.96" y="1204.78" width="14.6" height="14.6" fill="#231f1c"/>
<rect x="666.7" y="1230.32" width="14.6" height="14.6" fill="#231f1c"/>
<rect x="683.48" y="1229.71" width="14.6" height="14.6" fill="#231f1c"/>
<rect x="709.98" y="1241.56" width="14.6" height="14.6" fill="#231f1c"/>
<rect x="736.48" y="1246.43" width="14.6" height="14.6" fill="#231f1c"/>
<rect x="763.86" y="1250.38" width="14.6" height="14.6" fill="#231f1c"/>
<rect x="787.71" y="1266.19" width="14.6" height="14.6" fill="#231f1c"/>
<rect x="815.98" y="1270.44" width="14.6" height="14.6" fill="#231f1c"/>
<rect x="860.14" y="1276.83" width="14.6" height="14.6" fill="#231f1c"/>
<rect x="898.12" y="1294.16" width="14.6" height="14.6" fill="#231f1c"/>
<rect x="928.15" y="1292.33" width="14.6" height="14.6" fill="#231f1c"/>
<rect x="961.72" y="1294.16" width="14.6" height="14.6" fill="#231f1c"/>
<rect x="988.22" y="1300.54" width="14.6" height="14.6" fill="#231f1c"/>
<path d="M169.63 1479.6L266.8 1275.01L293.3 1288.99L319.79 1275.92L346.29 1309.36L372.79 1300.24L404.59 1306.32L429.32 1322.74L455.82 1319.09L478.79 1299.33L505.29 1264.67L531.79 1307.54L558.29 1310.88L584.78 1299.33L621.88 1328.51L649.26 1358.3L674 1349.49L690.78 1375.33L717.28 1376.24L743.78 1382.32L771.16 1360.13L795.01 1370.16L823.28 1415.15L867.44 1381.41L905.42 1371.68L935.45 1399.34L969.02 1357.09L995.52 1355.26" fill="none" stroke="#2ea366" stroke-width="2.0" stroke-linejoin="round"/>
<rect x="163.08" y="1473.05" width="13.1" height="13.1" fill="#fff" stroke="#1e9a55" stroke-width="1.7"/>
<rect x="260.25" y="1268.46" width="13.1" height="13.1" fill="#fff" stroke="#1e9a55" stroke-width="1.7"/>
<rect x="286.75" y="1282.44" width="13.1" height="13.1" fill="#fff" stroke="#1e9a55" stroke-width="1.7"/>
<rect x="313.24" y="1269.37" width="13.1" height="13.1" fill="#fff" stroke="#1e9a55" stroke-width="1.7"/>
<rect x="339.74" y="1302.81" width="13.1" height="13.1" fill="#fff" stroke="#1e9a55" stroke-width="1.7"/>
<rect x="366.24" y="1293.69" width="13.1" height="13.1" fill="#fff" stroke="#1e9a55" stroke-width="1.7"/>
<rect x="398.04" y="1299.77" width="13.1" height="13.1" fill="#fff" stroke="#1e9a55" stroke-width="1.7"/>
<rect x="422.77" y="1316.19" width="13.1" height="13.1" fill="#fff" stroke="#1e9a55" stroke-width="1.7"/>
<rect x="449.27" y="1312.54" width="13.1" height="13.1" fill="#fff" stroke="#1e9a55" stroke-width="1.7"/>
<rect x="472.24" y="1292.78" width="13.1" height="13.1" fill="#fff" stroke="#1e9a55" stroke-width="1.7"/>
<rect x="498.74" y="1258.12" width="13.1" height="13.1" fill="#fff" stroke="#1e9a55" stroke-width="1.7"/>
<rect x="525.24" y="1300.99" width="13.1" height="13.1" fill="#fff" stroke="#1e9a55" stroke-width="1.7"/>
<rect x="551.74" y="1304.33" width="13.1" height="13.1" fill="#fff" stroke="#1e9a55" stroke-width="1.7"/>
<rect x="578.23" y="1292.78" width="13.1" height="13.1" fill="#fff" stroke="#1e9a55" stroke-width="1.7"/>
<rect x="615.33" y="1321.96" width="13.1" height="13.1" fill="#fff" stroke="#1e9a55" stroke-width="1.7"/>
<rect x="642.71" y="1351.75" width="13.1" height="13.1" fill="#fff" stroke="#1e9a55" stroke-width="1.7"/>
<rect x="667.45" y="1342.94" width="13.1" height="13.1" fill="#fff" stroke="#1e9a55" stroke-width="1.7"/>
<rect x="684.23" y="1368.78" width="13.1" height="13.1" fill="#fff" stroke="#1e9a55" stroke-width="1.7"/>
<rect x="710.73" y="1369.69" width="13.1" height="13.1" fill="#fff" stroke="#1e9a55" stroke-width="1.7"/>
<rect x="737.23" y="1375.77" width="13.1" height="13.1" fill="#fff" stroke="#1e9a55" stroke-width="1.7"/>
<rect x="764.61" y="1353.58" width="13.1" height="13.1" fill="#fff" stroke="#1e9a55" stroke-width="1.7"/>
<rect x="788.46" y="1363.61" width="13.1" height="13.1" fill="#fff" stroke="#1e9a55" stroke-width="1.7"/>
<rect x="816.73" y="1408.6" width="13.1" height="13.1" fill="#fff" stroke="#1e9a55" stroke-width="1.7"/>
<rect x="860.89" y="1374.86" width="13.1" height="13.1" fill="#fff" stroke="#1e9a55" stroke-width="1.7"/>
<rect x="898.87" y="1365.13" width="13.1" height="13.1" fill="#fff" stroke="#1e9a55" stroke-width="1.7"/>
<rect x="928.9" y="1392.79" width="13.1" height="13.1" fill="#fff" stroke="#1e9a55" stroke-width="1.7"/>
<rect x="962.47" y="1350.54" width="13.1" height="13.1" fill="#fff" stroke="#1e9a55" stroke-width="1.7"/>
<rect x="988.97" y="1348.71" width="13.1" height="13.1" fill="#fff" stroke="#1e9a55" stroke-width="1.7"/>
<path d="M169.63 1479.6L266.8 1143.98L293.3 1261.02L319.79 1353.44L346.29 1409.68L372.79 1262.54L404.59 1306.62L429.32 1318.48L455.82 1368.03L478.79 1283.22L505.29 1340.67L531.79 1379.89L558.29 1387.18L584.78 1425.79L621.88 1427.31L649.26 1428.22L674 1414.24L690.78 1479.6L717.28 1479.6L743.78 1479.6L771.16 1479.6L795.01 1479.6L823.28 1479.6L867.44 1479.6L905.42 1479.6L935.45 1479.6L969.02 1479.6L995.52 1479.6" fill="none" stroke="#2ea366" stroke-width="2.0" stroke-linejoin="round"/>
<path d="M161.63 1473.1L177.63 1473.1L169.63 1487.6Z" fill="#00943f"/>
<path d="M285.3 1254.52L301.3 1254.52L293.3 1269.02Z" fill="#00943f"/>
<path d="M311.79 1346.94L327.79 1346.94L319.79 1361.44Z" fill="#00943f"/>
<path d="M338.29 1403.18L354.29 1403.18L346.29 1417.68Z" fill="#00943f"/>
<path d="M364.79 1256.04L380.79 1256.04L372.79 1270.54Z" fill="#00943f"/>
<path d="M396.59 1300.12L412.59 1300.12L404.59 1314.62Z" fill="#00943f"/>
<path d="M421.32 1311.98L437.32 1311.98L429.32 1326.48Z" fill="#00943f"/>
<path d="M447.82 1361.53L463.82 1361.53L455.82 1376.03Z" fill="#00943f"/>
<path d="M470.79 1276.72L486.79 1276.72L478.79 1291.22Z" fill="#00943f"/>
<path d="M497.29 1334.17L513.29 1334.17L505.29 1348.67Z" fill="#00943f"/>
<path d="M523.79 1373.39L539.79 1373.39L531.79 1387.89Z" fill="#00943f"/>
<path d="M550.29 1380.68L566.29 1380.68L558.29 1395.18Z" fill="#00943f"/>
<path d="M576.78 1419.29L592.78 1419.29L584.78 1433.79Z" fill="#00943f"/>
<path d="M613.88 1420.81L629.88 1420.81L621.88 1435.31Z" fill="#00943f"/>
<path d="M641.26 1421.72L657.26 1421.72L649.26 1436.22Z" fill="#00943f"/>
<path d="M666 1407.74L682 1407.74L674 1422.24Z" fill="#00943f"/>
<path d="M682.78 1473.1L698.78 1473.1L690.78 1487.6Z" fill="#00943f"/>
<path d="M709.28 1473.1L725.28 1473.1L717.28 1487.6Z" fill="#00943f"/>
<path d="M735.78 1473.1L751.78 1473.1L743.78 1487.6Z" fill="#00943f"/>
<path d="M763.16 1473.1L779.16 1473.1L771.16 1487.6Z" fill="#00943f"/>
<path d="M787.01 1473.1L803.01 1473.1L795.01 1487.6Z" fill="#00943f"/>
<path d="M815.28 1473.1L831.28 1473.1L823.28 1487.6Z" fill="#00943f"/>
<path d="M859.44 1473.1L875.44 1473.1L867.44 1487.6Z" fill="#00943f"/>
<path d="M897.42 1473.1L913.42 1473.1L905.42 1487.6Z" fill="#00943f"/>
<path d="M927.45 1473.1L943.45 1473.1L935.45 1487.6Z" fill="#00943f"/>
<path d="M961.02 1473.1L977.02 1473.1L969.02 1487.6Z" fill="#00943f"/>
<path d="M987.52 1473.1L1003.52 1473.1L995.52 1487.6Z" fill="#00943f"/>
<path d="M169.63 1479.6L266.8 1143.98L293.3 1127.87L319.79 1084.4L346.29 1136.69L372.79 1164.05L404.59 1223.63L429.32 1200.22L455.82 1247.34L478.79 1226.06L505.29 1248.56L531.79 1275.92L558.29 1294.77L584.78 1289.9L621.88 1328.51L649.26 1333.07L674 1315.44L690.78 1333.07L717.28 1328.51L743.78 1331.55L771.16 1319.39L795.01 1316.35L823.28 1342.8L867.44 1332.16L905.42 1105.68L935.45 1332.77L969.02 1238.22L995.52 1218.77" fill="none" stroke="#2ea366" stroke-width="2.0" stroke-linejoin="round"/>
<circle cx="169.63" cy="1479.6" r="7.9" fill="#00943f"/>
<circle cx="266.8" cy="1143.98" r="7.9" fill="#00943f"/>
<circle cx="293.3" cy="1127.87" r="7.9" fill="#00943f"/>
<circle cx="319.79" cy="1084.4" r="7.9" fill="#00943f"/>
<circle cx="346.29" cy="1136.69" r="7.9" fill="#00943f"/>
<circle cx="372.79" cy="1164.05" r="7.9" fill="#00943f"/>
<circle cx="404.59" cy="1223.63" r="7.9" fill="#00943f"/>
<circle cx="429.32" cy="1200.22" r="7.9" fill="#00943f"/>
<circle cx="455.82" cy="1247.34" r="7.9" fill="#00943f"/>
<circle cx="478.79" cy="1226.06" r="7.9" fill="#00943f"/>
<circle cx="505.29" cy="1248.56" r="7.9" fill="#00943f"/>
<circle cx="531.79" cy="1275.92" r="7.9" fill="#00943f"/>
<circle cx="558.29" cy="1294.77" r="7.9" fill="#00943f"/>
<circle cx="584.78" cy="1289.9" r="7.9" fill="#00943f"/>
<circle cx="649.26" cy="1333.07" r="7.9" fill="#00943f"/>
<circle cx="674" cy="1315.44" r="7.9" fill="#00943f"/>
<circle cx="690.78" cy="1333.07" r="7.9" fill="#00943f"/>
<circle cx="717.28" cy="1328.51" r="7.9" fill="#00943f"/>
<circle cx="743.78" cy="1331.55" r="7.9" fill="#00943f"/>
<circle cx="771.16" cy="1319.39" r="7.9" fill="#00943f"/>
<circle cx="795.01" cy="1316.35" r="7.9" fill="#00943f"/>
<circle cx="823.28" cy="1342.8" r="7.9" fill="#00943f"/>
<circle cx="867.44" cy="1332.16" r="7.9" fill="#00943f"/>
<circle cx="905.42" cy="1105.68" r="7.9" fill="#00943f"/>
<circle cx="935.45" cy="1332.77" r="7.9" fill="#00943f"/>
<circle cx="969.02" cy="1238.22" r="7.9" fill="#00943f"/>
<circle cx="995.52" cy="1218.77" r="7.9" fill="#00943f"/>
<rect x="615.33" y="1321.96" width="13.1" height="13.1" fill="#fff" stroke="#1e9a55" stroke-width="1.7"/>
<path d="M169.63 1312.4L169.63 1446.16" stroke="#423e3c" stroke-width="1.7"/>
<rect x="162.33" y="1305.1" width="14.6" height="14.6" fill="#231f1c"/>
<text x="123.5" y="53.5" class="s" fill="#1a1a1a" font-size="46" text-anchor="end">1.0</text>
<text x="123.5" y="357" class="s" fill="#1a1a1a" font-size="46" text-anchor="end">0.5</text>
<text x="123.5" y="660" class="s" fill="#1a1a1a" font-size="46" text-anchor="end">0.0</text>
<text x="127.7" y="887" class="s" fill="#1a1a1a" font-size="46" text-anchor="end">0.2</text>
<text x="127.7" y="1190.5" class="s" fill="#1a1a1a" font-size="46" text-anchor="end">0.1</text>
<text x="127.7" y="1494.5" class="s" fill="#1a1a1a" font-size="46" text-anchor="end">0.0</text>
<text x="159.1" y="721.5" class="s" fill="#1a1a1a" font-size="46" text-anchor="middle">0</text>
<text x="335.76" y="721.5" class="s" fill="#1a1a1a" font-size="46" text-anchor="middle">20</text>
<text x="512.42" y="721.5" class="s" fill="#1a1a1a" font-size="46" text-anchor="middle">40</text>
<text x="689.08" y="721.5" class="s" fill="#1a1a1a" font-size="46" text-anchor="middle">60</text>
<text x="865.74" y="721.5" class="s" fill="#1a1a1a" font-size="46" text-anchor="middle">80</text>
<text x="160.8" y="1553.3" class="s" fill="#1a1a1a" font-size="46" text-anchor="middle">0</text>
<text x="337.46" y="1553.3" class="s" fill="#1a1a1a" font-size="46" text-anchor="middle">20</text>
<text x="514.12" y="1553.3" class="s" fill="#1a1a1a" font-size="46" text-anchor="middle">40</text>
<text x="690.78" y="1553.3" class="s" fill="#1a1a1a" font-size="46" text-anchor="middle">60</text>
<text x="867.44" y="1553.3" class="s" fill="#1a1a1a" font-size="46" text-anchor="middle">80</text>
<text x="609.5" y="785" class="s" fill="#1a1a1a" font-size="55.5" text-anchor="middle" textLength="195" lengthAdjust="spacingAndGlyphs">Time (h)</text>
<text x="619" y="1613" class="s" fill="#1a1a1a" font-size="55.5" text-anchor="middle" textLength="193.5" lengthAdjust="spacingAndGlyphs">Time (h)</text>
<text transform="translate(54 339.9) rotate(-89.6)" class="s" fill="#1a1a1a" font-size="55.7" text-anchor="middle">Fraction carotenoid</text>
<text transform="translate(51.5 1129.4) rotate(-89.1)" class="s" fill="#1a1a1a" font-size="55.2" text-anchor="middle">Fraction carotenoid</text>
<text x="189.5" y="132.3" class="a" font-size="92" fill="#1a1a1a">A</text>
<text x="182.7" y="934.5" class="a" font-size="94" fill="#1a1a1a">B</text>
<text x="633.6" y="214" class="s" fill="#1a1a1a" font-size="52" textLength="118.5" lengthAdjust="spacingAndGlyphs">thspx</text>
<text x="576.9" y="499.8" class="s" fill="#1a1a1a" font-size="52" textLength="176.5" lengthAdjust="spacingAndGlyphs">dhrvbrn</text>
<path d="M287 351V416" stroke="#1a1a1a" stroke-width="3.5"/>
<path d="M272.5 413.5L301.5 413.5L287 439Z" fill="#1a1a1a"/>
<path d="M556.5 494.5L480 533" stroke="#1a1a1a" stroke-width="3"/>
<path d="M467.8 539.8L478 525.9L484.5 539.8Z" fill="#1a1a1a"/>
<text x="451.7" y="878" class="s" fill="#1a1a1a" font-size="52" textLength="177.3" lengthAdjust="spacingAndGlyphs">dhrvbrn</text>
<path d="M445.4 880.4L414.5 959" stroke="#1a1a1a" stroke-width="3"/>
<path d="M408.9 973.6L408.9 956.8L423.7 962.3Z" fill="#1a1a1a"/>
<text x="557.5" y="952.2" class="s" font-size="57" fill="#2d8c5f" textLength="224" lengthAdjust="spacingAndGlyphs">OH-ddlyc</text>
<path d="M548.5 948.4L341 1085.5" stroke="#2d8c5f" stroke-width="2.6"/>
<path d="M328.2 1095.5L335.2 1079.4L344.5 1095.5Z" fill="#2d8c5f"/>
<text x="628.1" y="1023.1" class="s" font-size="57" fill="#d81a44" textLength="232.1" lengthAdjust="spacingAndGlyphs">OH-dhsph</text>
<path d="M616.5 1014L469 1274" stroke="#d81a44" stroke-width="3"/>
<path d="M461.5 1288L461.5 1269.5L477.5 1277.5Z" fill="#d81a44"/>
</svg>
</body></html>
